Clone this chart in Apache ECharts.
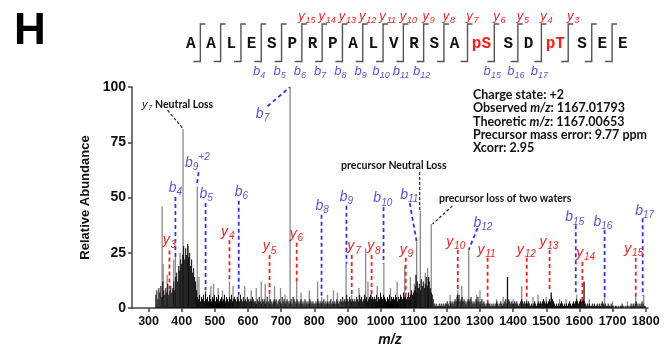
<!DOCTYPE html>
<html>
<head>
<meta charset="UTF-8">
<title>MS/MS spectrum</title>
<script src="https://cdn.jsdelivr.net/npm/echarts@6/dist/echarts.min.js"></script>
<style>
  html, body { margin: 0; padding: 0; background: #fff; }
  #main { width: 665px; height: 348px; }
</style>
</head>
<body>
<div id="main"></div>
<script>
// peptide sequence + fragment ions seen in the sequence map
var residues = ['A','A','L','E','S','P','R','P','A','L','V','R','S','A','pS','S','D','pT','S','E','E'];
var seqB = [4, 5, 6, 7, 8, 9, 10, 11, 12, 15, 16, 17];
var seqY = [15, 14, 13, 12, 11, 10, 9, 8, 7, 6, 5, 4, 3];

// x axis ticks
var mzTicks = [300, 400, 500, 600, 700, 800, 900, 1000, 1100, 1200, 1300, 1400, 1500, 1600, 1700, 1800];

// background noise (black), one value every 3 m/z from 322
var noiseStart = 322, noiseStep = 3;
var noiseInt = [
  6,8,4,9,7,10,5,12,8,6,9,7,11,6,8,10,7,9,12,8,
  14,16,12,19,17,22,20,24,28,22,27,24,29,23,25,19,22,16,18,14,
  12,8,5,4,6,3,5,4,6,3,7,4,5,3,6,4,3,5,4,6,
  3,5,4,6,3,4,5,3,4,6,3,5,4,3,5,4,6,3,4,5,
  4,3,5,4,3,6,4,3,5,3,4,3,5,4,3,4,3,5,4,3,
  3,2,4,3,5,3,2,4,3,4,2,3,5,3,2,4,3,2,3,4,
  3,4,2,3,4,3,2,5,3,4,2,3,4,3,2,3,4,2,5,4,
  3,2,4,3,2,3,4,2,3,2,4,3,2,3,2,4,3,2,3,2,
  2,3,2,4,3,2,3,2,3,4,2,3,2,3,2,3,4,2,3,2,
  3,2,4,3,2,3,4,3,5,3,4,3,6,4,3,5,4,3,4,3,
  4,3,5,4,3,6,4,5,3,4,6,4,5,3,4,5,6,4,5,4,
  5,4,6,3,5,4,7,5,4,6,5,4,3,5,4,6,3,5,4,5,
  4,6,5,3,5,4,6,5,4,7,5,6,4,5,7,5,6,8,6,7,
  8,10,7,12,9,11,8,13,10,12,9,11,14,10,8,12,9,7,6,4,
  2,1,2,1,1,2,1,2,1,2,1,2,2,3,2,1,3,2,3,2,
  3,4,3,5,4,6,3,4,5,3,4,3,2,3,4,3,4,5,3,2,
  3,2,4,3,5,3,2,3,4,2,3,2,1,2,3,2,2,1,2,1,
  2,1,2,3,2,1,2,3,2,1,2,3,4,2,3,4,3,2,3,2,
  2,3,2,3,2,1,2,3,4,3,2,3,2,3,2,3,2,1,2,1,
  2,3,2,1,2,3,2,3,2,3,4,3,2,3,2,3,4,3,5,4,
  3,2,1,2,1,2,1,2,3,2,1,2,1,2,1,2,3,2,1,2,
  3,2,3,4,3,2,3,4,3,5,4,3,2,1,2,1,2,1,1,2,
  1,2,1,1,2,1,2,1,2,3,2,1,2,1,1,2,1,1,2,1,
  1,0,1,1,0,1,0,1,1,2,1,0,1,0,1,1,0,1,2,1,
  2,1,2,3,2,1,2,1,2,3,2,1,1
];

// grey centroid peaks
var peakMz  = [341,344,356,376,381,395,404,420,447,452,472,488,496,510,523,544,555,571,590,610,
               625,640,652,665,680,698,712,727,747,760,785,810,822,840,858,870,896,913,935,955,
               962,972,990,1010,1030,1050,1073,1090,1102,1109,1120,1135,1142,1153,1210,1233,1245,1266,1290,1300,
               1323,1350,1370,1400,1426,1441,1460,1475,1500,1540,1560,1592,1630,1676,1700,1745,1770,1794];
var peakInt = [46,20,15,22,23,25,81,28,55,14,8,10,11,9,8,12,10,6,10,8,
               9,12,11,6,10,9,6,100,12,7,8,12,5,6,8,7,20,6,9,27,
               12,8,10,20,9,12,19,14,11,30,44,16,18,38,6,8,10,26,6,8,
               3,4,5,4,10,4,5,6,5,4,4,6,4,5,3,3,5,6];

// dark peaks drawn with the noise
var darkMz  = [1107,1145,1232,1383,1515,1614];
var darkInt = [15,14,6,14,7,12];

// b ion annotations (label position + dashed leader, data coords)
var bSub = ['4','9','5','6','7','8','9','10','11','12','15','16','17'];
var bSup = ['','+2','','','','','','','','','','',''];
var bLabelMz  = [381,448,474,580,644,824,897,1007,1088,1309,1586,1671,1797];
var bLabelInt = [54.3,65.6,51.6,52.6,87.7,46.2,50.4,49.6,51.1,38.4,41,39,44];
var bLineMz1  = [381,451,472,572,659,822,897,1009,1088,1293,1589,1676,1791];
var bLineInt1 = [50.2,61.5,47.5,48.5,91.3,42.2,46.3,45.7,47.5,36.2,37.4,35.3,40.6];
var bLineMz2  = [381,446,472,572,726,822,897,1009,1109,1266,1589,1676,1791];
var bLineInt2 = [23.1,56.1,8.2,6,99.9,4.6,20,20,29.9,26.3,6,4.6,5.5];

// y ion annotations
var ySub = ['3','4','5','6','7','8','9','10','11','12','13','14','15'];
var yLabelMz  = [363,539,665,746,920,980,1078,1227,1321,1440,1508,1619,1764];
var yLabelInt = [30.5,34.3,27.8,33.5,27.8,27.8,26.3,30,26.3,26.3,30,25,26.6];
var yLineMz   = [363,544,665,747,913,973,1076,1233,1323,1441,1510,1609,1770];
var yLineTop  = [26,30.6,24,29.5,24,24,22.7,26.3,22.7,22.7,26.3,20.8,22.7];
var yLineBot  = [8,12.6,6,12,5.5,6,3.7,7.4,2.8,3.7,7.4,2.8,4.6];

// black notes
var noteText = ['Neutral Loss', 'precursor Neutral Loss', 'precursor loss of two waters'];
var noteMz  = [404, 1040, 1376];
var noteInt = [92, 64.4, 49.6];
var noteLineMz1  = [357, 1118, 1217];
var noteLineInt1 = [89.5, 61.5, 46.2];
var noteLineMz2  = [402.6, 1118, 1157];
var noteLineInt2 = [81.4, 44, 38];

var infoLines = [
  'Charge state: +2',
  'Observed {i|m/z}: 1167.01793',
  'Theoretic {i|m/z}: 1167.00653',
  'Precursor mass error: 9.77 ppm',
  'Xcorr: 2.95'
];

var BLUE = '#5656e0', BLUE_LINE = '#3434f0', RED = '#ee2424';
var FONT = '"Liberation Sans", Arial, sans-serif';

// letter + subscript (+ optional superscript) as a small group of texts
function ionLabel(letter, sub, sup, cx, cy, color, size) {
  var ss = Math.round(size * 0.68);
  var lw = size * 0.56, sw = sub.length * ss * 0.56, pw = sup ? sup.length * ss * 0.6 : 0;
  var x0 = cx - (lw + sw + pw) / 2;
  function t(txt, x, y, fs) {
    return { type: 'text', x: x, y: y, style: { text: txt, fill: color,
      font: 'italic ' + fs + 'px ' + FONT, align: 'left', verticalAlign: 'middle',
      textAlign: 'left', textVerticalAlign: 'middle' } };
  }
  var kids = [t(letter, x0, cy, size), t(sub, x0 + lw, cy + size * 0.32, ss)];
  if (sup) kids.push(t(sup, x0 + lw + sw, cy - size * 0.38, ss));
  return kids;
}

function stickSeries(mz, inten, color, width) {
  return {
    type: 'custom', silent: true, animation: false,
    data: mz.map(function (m, i) { return [m, inten[i]]; }),
    renderItem: function (params, api) {
      var a = api.coord([api.value(0), 0]), b = api.coord([api.value(0), api.value(1)]);
      return { type: 'line', shape: { x1: a[0], y1: a[1], x2: b[0], y2: b[1] },
        style: { stroke: color, lineWidth: width } };
    }
  };
}

function leaderSeries(m1, i1, m2, i2, color, width, dash) {
  return {
    type: 'custom', silent: true, animation: false, clip: false,
    dimensions: ['x1', 'y1', 'x2', 'y2'],
    encode: { x: [0, 2], y: [1, 3] },
    data: m1.map(function (m, k) { return [m, i1[k], m2[k], i2[k]]; }),
    renderItem: function (params, api) {
      var a = api.coord([api.value(0), api.value(1)]), b = api.coord([api.value(2), api.value(3)]);
      return { type: 'line', shape: { x1: a[0], y1: a[1], x2: b[0], y2: b[1] },
        style: { stroke: color, lineWidth: width, lineDash: dash } };
    }
  };
}

function labelSeries(mz, inten, make) {
  return {
    type: 'custom', silent: true, animation: false, clip: false,
    data: mz.map(function (m, i) { return [m, inten[i]]; }),
    renderItem: function (params, api) {
      var p = api.coord([api.value(0), api.value(1)]);
      return { type: 'group', children: make(params.dataIndex, p[0], p[1]) };
    }
  };
}

var noiseMz = noiseInt.map(function (v, i) { return noiseStart + i * noiseStep; });

// ---- header graphic: panel letter, sequence map, info box ----
var graphics = [{ type: 'text', x: 14, y: 10,
  style: { text: 'H', font: 'bold 44px ' + FONT, fill: '#000' } }];

var xs = [190.7];
for (var i = 1; i < residues.length; i++) {
  var gap = 20.3 + (residues[i - 1][0] === 'p' ? 6.5 : 0) + (residues[i][0] === 'p' ? 6.5 : 0);
  xs.push(xs[i - 1] + gap);
}
residues.forEach(function (r, i) {
  graphics.push({ type: 'text', x: xs[i], y: 44, style: { text: r,
    fill: r[0] === 'p' ? '#ff1a1a' : '#111', font: 'bold 16px "Liberation Mono", monospace',
    align: 'center', verticalAlign: 'middle', textAlign: 'center', textVerticalAlign: 'middle' } });
});
for (var g = 0; g < residues.length - 1; g++) {
  var vx = (xs[g] + xs[g + 1]) / 2 - 0.5;
  graphics.push({ type: 'polyline', shape: { points: [[vx - 7, 61.5], [vx, 61.5], [vx, 24], [vx + 5, 24]] },
    style: { stroke: '#555', lineWidth: 1.4, fill: null } });
}
seqB.forEach(function (n) {
  var vx = (xs[n - 1] + xs[n]) / 2 - 0.5;
  graphics.push({ type: 'group', children: ionLabel('b', String(n), '', vx - 2, 71, BLUE, 13) });
});
seqY.forEach(function (n) {
  var gi = 20 - n;
  var vx = (xs[gi] + xs[gi + 1]) / 2 - 0.5;
  graphics.push({ type: 'group', children: ionLabel('y', String(n), '', vx + 5, 16.5, RED, 13) });
});
infoLines.forEach(function (s, i) {
  graphics.push({ type: 'text', x: 473, y: 95 + i * 13.3, style: { text: s,
    font: 'bold 12.5px Lato, sans-serif', fill: '#111', verticalAlign: 'middle', textVerticalAlign: 'middle',
    rich: { i: { fontStyle: 'italic', fontWeight: 'bold', fontSize: 12.5, fontFamily: 'Lato', fill: '#111', color: '#111' } } } });
});

var chart = echarts.init(document.getElementById('main'));
chart.setOption({
  animation: false,
  grid: { left: 132, right: 17, top: 87, bottom: 40, outerBoundsMode: 'none' },
  xAxis: {
    type: 'value', min: 250, max: 1807,
    name: 'm/z', nameLocation: 'middle', nameGap: 23,
    nameTextStyle: { fontFamily: FONT, fontWeight: 'bold', fontStyle: 'italic', fontSize: 14, color: '#111' },
    axisLine: { lineStyle: { color: '#444', width: 1.5 } },
    axisTick: { customValues: mzTicks, length: 4, lineStyle: { color: '#444', width: 1.5 } },
    axisLabel: { customValues: mzTicks, formatter: function (v) { return String(v); },
      fontFamily: FONT, fontWeight: 'bold', fontSize: 12.5, color: '#111', margin: 7 },
    splitLine: { show: false }
  },
  yAxis: {
    type: 'value', min: 0, max: 100, interval: 25,
    name: 'Relative Abundance', nameLocation: 'middle', nameGap: 27,
    nameTextStyle: { fontFamily: FONT, fontWeight: 'bold', fontSize: 13, color: '#111' },
    axisLine: { show: true, lineStyle: { color: '#444', width: 1.5 } },
    axisTick: { show: true, length: 4, lineStyle: { color: '#444', width: 1.5 } },
    axisLabel: { fontFamily: FONT, fontWeight: 'bold', fontSize: 14, color: '#111', margin: 6 },
    splitLine: { show: false }
  },
  graphic: graphics,
  series: [
    stickSeries(peakMz, peakInt, '#8a8a8a', 1.3),
    stickSeries(noiseMz, noiseInt, '#000', 1),
    stickSeries(darkMz, darkInt, '#111', 1.3),
    leaderSeries(bLineMz1, bLineInt1, bLineMz2, bLineInt2, BLUE_LINE, 1.8, [4, 3]),
    leaderSeries(yLineMz, yLineTop, yLineMz, yLineBot, RED, 1.8, [4, 3]),
    leaderSeries(noteLineMz1, noteLineInt1, noteLineMz2, noteLineInt2, '#222', 1.2, [3, 2]),
    labelSeries(bLabelMz, bLabelInt, function (k, x, y) { return ionLabel('b', bSub[k], bSup[k], x, y, BLUE, 14); }),
    labelSeries(yLabelMz, yLabelInt, function (k, x, y) { return ionLabel('y', ySub[k], '', x, y, RED, 14); }),
    labelSeries(noteMz, noteInt, function (k, x, y) {
      var style = { fill: '#111', font: 'bold 10.5px Lato, sans-serif', verticalAlign: 'middle', textVerticalAlign: 'middle' };
      if (k > 0) {
        return [{ type: 'text', x: x, y: y, style: Object.assign({ text: noteText[k], align: 'center', textAlign: 'center' }, style) }];
      }
      return ionLabel('y', '7', '', x - 36, y, '#111', 11).concat([{ type: 'text', x: x - 28, y: y,
        style: Object.assign({ text: noteText[k], align: 'left', textAlign: 'left' }, style) }]);
    })
  ]
});
</script>
</body>
</html>
